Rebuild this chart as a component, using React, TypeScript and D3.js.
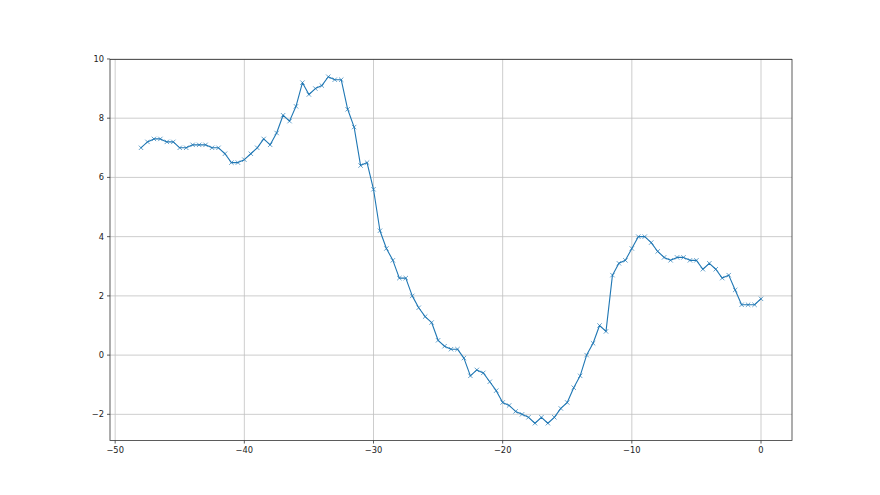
import React from "react";
import * as d3 from "d3";

const xValues: number[] = d3.range(-48, 0.001, 0.5);
const yValues: number[] = [
  7.0, 7.2, 7.3, 7.3, 7.2, 7.2, 7.0, 7.0, 7.1, 7.1, 7.1, 7.0, 7.0, 6.8, 6.5, 6.5,
  6.6, 6.8, 7.0, 7.3, 7.1, 7.5, 8.1, 7.9, 8.4, 9.2, 8.8, 9.0, 9.1, 9.4, 9.3, 9.3,
  8.3, 7.7, 6.4, 6.5, 5.6, 4.2, 3.6, 3.2, 2.6, 2.6, 2.0, 1.6, 1.3, 1.1, 0.5, 0.3,
  0.2, 0.2, -0.1, -0.7, -0.5, -0.6, -0.9, -1.2, -1.6, -1.7, -1.9, -2.0, -2.1, -2.3,
  -2.1, -2.3, -2.1, -1.8, -1.6, -1.1, -0.7, 0.0, 0.4, 1.0, 0.8, 2.7, 3.1, 3.2,
  3.6, 4.0, 4.0, 3.8, 3.5, 3.3, 3.2, 3.3, 3.3, 3.2, 3.2, 2.9, 3.1, 2.9, 2.6, 2.7,
  2.2, 1.7, 1.7, 1.7, 1.9,
];
const xTicks: number[] = [-50, -40, -30, -20, -10, 0];
const yTicks: number[] = [-2, 0, 2, 4, 6, 8, 10];

const W = 880;
const H = 495;
const margin = { left: 110, right: 792, top: 59.4, bottom: 440.55 };

const fmt = (v: number) => (v < 0 ? "\u2212" + Math.abs(v) : String(v));

export default function App() {
  const data = xValues.map((x, i) => ({ x, y: yValues[i] }));
  const xMin = d3.min(xValues)!;
  const xMax = d3.max(xValues)!;
  const yMin = d3.min(yValues)!;
  const yMax = d3.max(yValues)!;
  const xPad = (xMax - xMin) * 0.05;
  const yPad = (yMax - yMin) * 0.05;
  const x = d3.scaleLinear().domain([xMin - xPad, xMax + xPad]).range([margin.left, margin.right]);
  const y = d3.scaleLinear().domain([yMin - yPad, yMax + yPad]).range([margin.bottom, margin.top]);
  const line = d3
    .line<{ x: number; y: number }>()
    .x((d) => x(d.x))
    .y((d) => y(d.y));
  const color = "#1f77b4";
  const ms = 2.2;
  const fs = 8.3;
  return (
    <svg
      width={W}
      height={H}
      style={{ position: "absolute", left: 0, top: 0, background: "#fff" }}
      fontFamily="DejaVu Sans"
    >
      <rect x={0} y={0} width={W} height={H} fill="#fff" />
      {xTicks.map((t) => (
        <line key={"gx" + t} x1={x(t)} x2={x(t)} y1={margin.top} y2={margin.bottom} stroke="#c0c0c0" strokeWidth={0.8} />
      ))}
      {yTicks.map((t) => (
        <line key={"gy" + t} x1={margin.left} x2={margin.right} y1={y(t)} y2={y(t)} stroke="#c0c0c0" strokeWidth={0.8} />
      ))}
      <path d={line(data) || ""} fill="none" stroke={color} strokeWidth={1.1} strokeLinejoin="round" strokeLinecap="square" />
      {data.map((d, i) => (
        <path
          key={"m" + i}
          d={`M${x(d.x) - ms},${y(d.y) - ms}L${x(d.x) + ms},${y(d.y) + ms}M${x(d.x) - ms},${y(d.y) + ms}L${x(d.x) + ms},${y(d.y) - ms}`}
          stroke={color}
          strokeWidth={0.8}
          strokeOpacity={0.85}
          fill="none"
        />
      ))}
      <rect
        x={margin.left}
        y={margin.top}
        width={margin.right - margin.left}
        height={margin.bottom - margin.top}
        fill="none"
        stroke="#333"
        strokeWidth={0.8}
      />
      {xTicks.map((t) => (
        <g key={"tx" + t}>
          <line x1={x(t)} x2={x(t)} y1={margin.bottom} y2={margin.bottom + 3} stroke="#333" strokeWidth={0.8} />
          <text x={x(t)} y={margin.bottom + 6} dy="0.76em" fontSize={fs} textAnchor="middle" fill="#222">
            {fmt(t)}
          </text>
        </g>
      ))}
      {yTicks.map((t) => (
        <g key={"ty" + t}>
          <line x1={margin.left - 3} x2={margin.left} y1={y(t)} y2={y(t)} stroke="#333" strokeWidth={0.8} />
          <text x={margin.left - 6} y={y(t)} dy="0.35em" fontSize={fs} textAnchor="end" fill="#222">
            {fmt(t)}
          </text>
        </g>
      ))}
    </svg>
  );
}
